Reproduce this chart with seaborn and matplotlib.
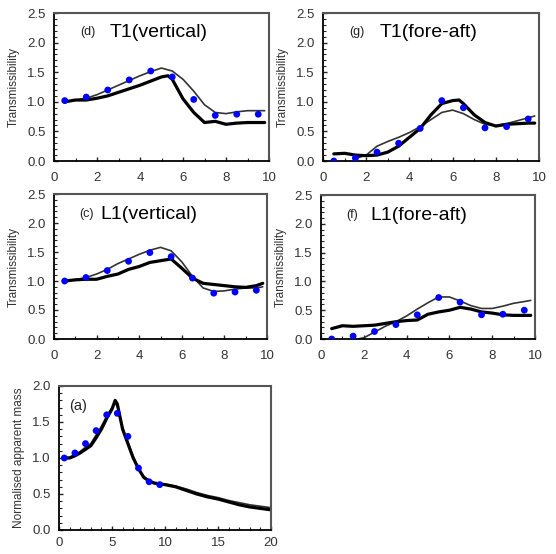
import numpy as np
import pandas as pd
import seaborn as sns
import matplotlib.pyplot as plt
from matplotlib.ticker import MultipleLocator

sns.set_theme(style="white")
plt.rcParams['font.family'] = ['Liberation Sans', 'DejaVu Sans']

# measured points (blue dots), same frequencies for every panel
dot_x = [0.5, 1.5, 2.5, 3.5, 4.5, 5.5, 6.5, 7.5, 8.5, 9.5]

# T1 vertical (d)
d_dots = [1.02, 1.08, 1.2, 1.37, 1.52, 1.42, 1.04, 0.77, 0.79, 0.79]
d_thin_x = [0.5, 1, 1.5, 2, 2.5, 3, 3.5, 4, 4.5, 5, 5.5, 6, 6.5, 7, 7.5, 8, 8.5, 9, 9.5, 9.8]
d_thin_y = [1.0, 1.03, 1.06, 1.12, 1.2, 1.28, 1.36, 1.44, 1.51, 1.57, 1.52, 1.38, 1.18, 0.95,
            0.82, 0.80, 0.83, 0.85, 0.85, 0.85]
d_thick_x = [0.5, 1, 1.5, 2, 2.5, 3, 3.5, 4, 4.5, 5, 5.3, 5.5, 6, 6.5, 7, 7.5, 8, 8.5, 9, 9.5, 9.8]
d_thick_y = [1.0, 1.03, 1.03, 1.06, 1.1, 1.16, 1.22, 1.28, 1.35, 1.42, 1.44, 1.38, 1.05, 0.82,
             0.65, 0.67, 0.62, 0.64, 0.65, 0.65, 0.65]

# T1 fore-aft (g)
g_dots = [0.0, 0.05, 0.15, 0.3, 0.55, 1.02, 0.9, 0.56, 0.58, 0.71]
g_thin_x = [1.5, 2, 2.5, 3, 3.5, 4, 4.5, 5, 5.5, 6, 6.5, 7, 7.5, 8, 8.5, 9, 9.5, 9.8]
g_thin_y = [0.04, 0.1, 0.25, 0.33, 0.4, 0.48, 0.58, 0.7, 0.82, 0.86, 0.8, 0.7, 0.62, 0.6,
            0.63, 0.68, 0.73, 0.76]
g_thick_x = [0.5, 1, 1.5, 2, 2.5, 3, 3.5, 4, 4.5, 5, 5.5, 6, 6.3, 6.5, 7, 7.5, 8, 8.5, 9, 9.5, 9.8]
g_thick_y = [0.12, 0.13, 0.1, 0.09, 0.1, 0.15, 0.25, 0.4, 0.55, 0.78, 0.97, 1.02, 1.03, 0.97,
             0.78, 0.65, 0.59, 0.62, 0.63, 0.64, 0.64]

# L1 vertical (c)
c_dots = [1.0, 1.06, 1.18, 1.34, 1.49, 1.42, 1.05, 0.79, 0.81, 0.84]
c_thin_x = [0.5, 1, 1.5, 2, 2.5, 3, 3.5, 4, 4.5, 5, 5.5, 6, 6.5, 7, 7.5, 8, 8.5, 9, 9.5, 9.8]
c_thin_y = [1.0, 1.02, 1.06, 1.12, 1.2, 1.3, 1.38, 1.46, 1.53, 1.58, 1.52, 1.33, 1.08, 0.88,
            0.82, 0.83, 0.86, 0.88, 0.88, 0.9]
c_thick_x = [0.5, 1, 1.5, 2, 2.5, 3, 3.5, 4, 4.5, 5, 5.5, 6, 6.5, 7, 7.5, 8, 8.5, 9, 9.5, 9.8]
c_thick_y = [1.0, 1.02, 1.03, 1.03, 1.08, 1.12, 1.2, 1.25, 1.32, 1.35, 1.38, 1.22, 1.05, 0.96,
             0.94, 0.92, 0.9, 0.89, 0.92, 0.96]

# L1 fore-aft (f)
f_dots = [0.0, 0.05, 0.13, 0.25, 0.42, 0.72, 0.64, 0.42, 0.43, 0.5]
f_thin_x = [1.7, 2, 2.5, 3, 3.5, 4, 4.5, 5, 5.5, 6, 6.5, 7, 7.5, 8, 8.5, 9, 9.5, 9.8]
f_thin_y = [0.0, 0.02, 0.12, 0.22, 0.3, 0.4, 0.52, 0.63, 0.73, 0.73, 0.66, 0.58, 0.53, 0.53,
            0.57, 0.62, 0.65, 0.67]
f_thick_x = [0.5, 1, 1.5, 2, 2.5, 3, 3.5, 4, 4.5, 5, 5.5, 6, 6.5, 7, 7.5, 8, 8.5, 9, 9.5, 9.8]
f_thick_y = [0.18, 0.23, 0.22, 0.23, 0.24, 0.27, 0.3, 0.32, 0.33, 0.43, 0.47, 0.5, 0.55, 0.52,
             0.47, 0.45, 0.42, 0.41, 0.41, 0.41]

# apparent mass (a)
a_dots = [1.0, 1.07, 1.2, 1.38, 1.6, 1.62, 1.3, 0.86, 0.67, 0.63]
a_line_x = [0.5, 1, 1.5, 2, 2.5, 3, 3.5, 4, 4.5, 5, 5.3, 5.5, 6, 6.5, 7, 7.5, 8, 8.5, 9, 10,
            11, 12, 13, 14, 15, 16, 17, 18, 19, 20]
a_thick_y = [1.0, 1.0, 1.03, 1.07, 1.12, 1.17, 1.28, 1.4, 1.55, 1.68, 1.8, 1.75, 1.4, 1.2, 1.0,
             0.85, 0.73, 0.68, 0.65, 0.63, 0.6, 0.55, 0.5, 0.46, 0.43, 0.39, 0.35, 0.32, 0.3, 0.28]
a_thin_y = [1.0, 1.01, 1.05, 1.09, 1.15, 1.2, 1.32, 1.44, 1.58, 1.7, 1.76, 1.72, 1.42, 1.22,
            1.02, 0.86, 0.74, 0.69, 0.66, 0.64, 0.61, 0.57, 0.52, 0.48, 0.45, 0.41, 0.38, 0.35,
            0.33, 0.31]

fig = plt.figure(figsize=(5.56, 5.54), dpi=100)
W, H = 556, 554


def add_ax(x0, y0, x1, y1):
    return fig.add_axes([x0 / W, 1 - y1 / H, (x1 - x0) / W, (y1 - y0) / H])


def style(ax, xmax, ymax, xstep, ylabel, xpad=8):
    ax.set_xlim(0, xmax)
    ax.set_ylim(0, ymax)
    ax.xaxis.set_major_locator(MultipleLocator(xstep))
    ax.xaxis.set_minor_locator(MultipleLocator(1))
    ax.yaxis.set_major_locator(MultipleLocator(0.5))
    ax.yaxis.set_minor_locator(MultipleLocator(0.1))
    ax.tick_params(which="both", direction="in", bottom=True, left=True, top=False, right=False,
                   labelsize=9.5, labelcolor="#333333")
    ax.tick_params(axis="x", pad=xpad)
    ax.tick_params(axis="y", pad=6)
    ax.tick_params(which="major", length=3, width=1)
    ax.tick_params(which="minor", length=2, width=0.8)
    ax.yaxis.set_major_formatter(plt.FuncFormatter(lambda v, p: f"{v:.1f}"))
    ax.xaxis.set_major_formatter(plt.FuncFormatter(lambda v, p: f"{v:.0f}"))
    for s in ["left", "bottom"]:
        ax.spines[s].set_color("black")
        ax.spines[s].set_linewidth(1.3)
    for s in ["top", "right"]:
        ax.spines[s].set_color("#555555")
        ax.spines[s].set_linewidth(1.5)
    ax.set_ylabel(ylabel, fontsize=8.5, color="#333333", labelpad=5)
    ax.set_xlabel("")


def panel(ax, dots, thin_x, thin_y, thick_x, thick_y, tag, name, name_x, name_y):
    sns.lineplot(x=thin_x, y=thin_y, ax=ax, color="#333333", linewidth=1.2)
    sns.lineplot(x=thick_x, y=thick_y, ax=ax, color="black", linewidth=2.3)
    sns.scatterplot(x=dot_x, y=dots, ax=ax, color="blue", s=24, edgecolor="none", zorder=5)
    style(ax, 10, 2.5, 2, "Transmissibility")
    ax.text(0.12, name_y, tag, transform=ax.transAxes, fontsize=9, color="#222222",
            va="center")
    ax.text(name_x, name_y, name, transform=ax.transAxes, fontsize=14, color="black",
            va="center")


ax_d = add_ax(54, 13, 269, 161)
panel(ax_d, d_dots, d_thin_x, d_thin_y, d_thick_x, d_thick_y, "(d)", "T1(vertical)", 0.26, 0.87)

ax_g = add_ax(323, 13, 539, 161)
panel(ax_g, g_dots, g_thin_x, g_thin_y, g_thick_x, g_thick_y, "(g)", "T1(fore-aft)", 0.26, 0.87)

ax_c = add_ax(54, 194, 267, 339)
panel(ax_c, c_dots, c_thin_x, c_thin_y, c_thick_x, c_thick_y, "(c)", "L1(vertical)", 0.22, 0.86)

ax_f = add_ax(321, 195, 535, 339)
panel(ax_f, f_dots, f_thin_x, f_thin_y, f_thick_x, f_thick_y, "(f)", "L1(fore-aft)", 0.23, 0.86)

ax_a = add_ax(59, 386, 271, 530)
sns.lineplot(x=a_line_x, y=a_thin_y, ax=ax_a, color="#333333", linewidth=1.2)
sns.lineplot(x=a_line_x, y=a_thick_y, ax=ax_a, color="black", linewidth=2.3)
sns.scatterplot(x=dot_x, y=a_dots, ax=ax_a, color="blue", s=24, edgecolor="none", zorder=5)
style(ax_a, 20, 2.0, 5, "Normalised apparent mass", xpad=5)
ax_a.text(0.05, 0.86, "(a)", transform=ax_a.transAxes, fontsize=10.5, color="#222222",
          va="center")

fig.savefig("out.png", dpi=100)
